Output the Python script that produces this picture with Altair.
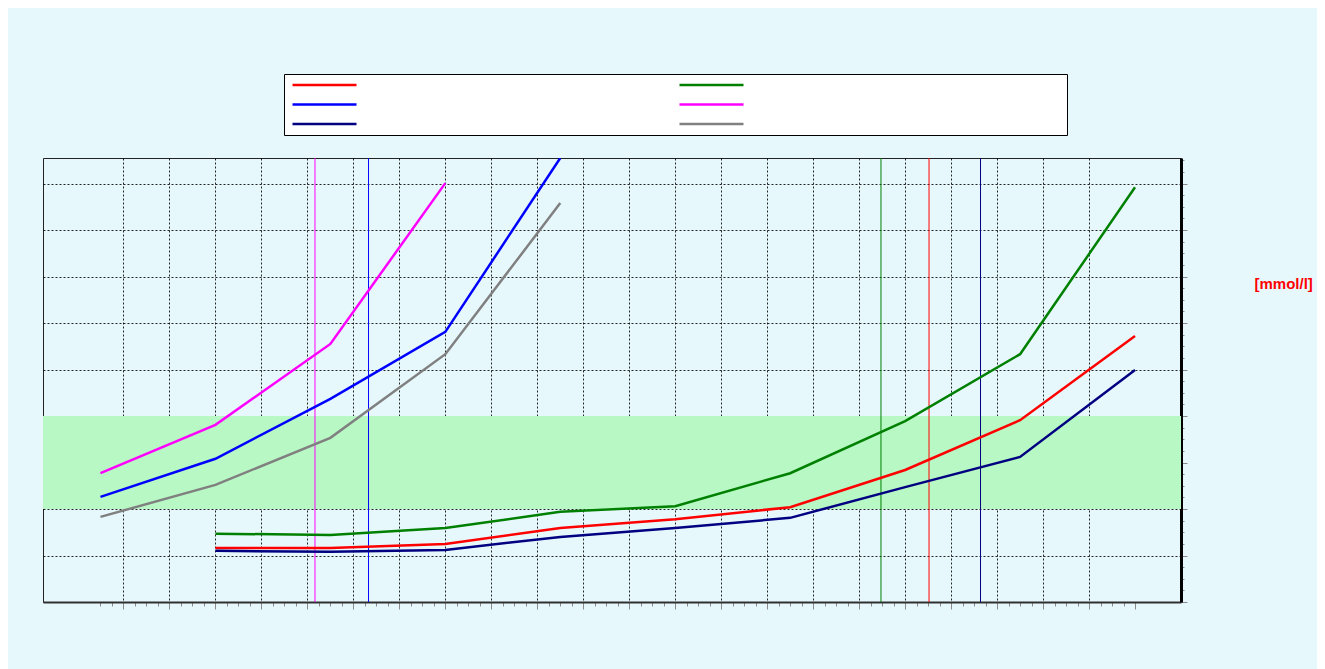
import altair as alt
import pandas as pd

# ---- data ----
# legend fills column by column: left column red, blue, navy; right column green, magenta, gray
series_names = ["Test 1", "Test 2", "Test 3", "Test 4", "Test 5", "Test 6"]
series_colors = ["#ff0000", "#0000ff", "#000080", "#008000", "#ff00ff", "#808080"]

x_steps = [0, 5, 10, 15, 20, 25, 30, 35, 40, 45]
red_vals = [None, 1.16, 1.16, 1.25, 1.59, 1.78, 2.04, 2.84, 3.91, 5.72]
blue_vals = [2.26, 3.08, 4.37, 5.81, 9.55, None, None, None, None, None]
navy_vals = [None, 1.10, 1.08, 1.12, 1.40, 1.59, 1.81, 2.47, 3.12, 4.99]
green_vals = [None, 1.47, 1.44, 1.59, 1.94, 2.06, 2.77, 3.89, 5.33, 8.92]
magenta_vals = [2.77, 3.81, 5.55, 9.01, None, None, None, None, None, None]
gray_vals = [1.83, 2.52, 3.53, 5.33, 8.58, None, None, None, None, None]

threshold_series = ["Test 5", "Test 2", "Test 4", "Test 1", "Test 3"]
threshold_x = [9.33, 11.66, 33.95, 36.04, 38.28]

band_low = [2.0]
band_high = [4.0]

x_domain = [-2.5, 47]
y_domain = [0, 9.55]
x_tick_values = [i * 0.5 for i in range(0, 91)]
y_tick_values = [i * 0.25 for i in range(0, 39)]

# ---- build tables ----
rows = []
for name, vals in zip(series_names, [red_vals, blue_vals, navy_vals, green_vals, magenta_vals, gray_vals]):
    for xv, yv in zip(x_steps, vals):
        if yv is not None:
            rows.append({"serie": name, "x": xv, "y": yv})
lines_df = pd.DataFrame(rows)
thr_df = pd.DataFrame({"serie": threshold_series, "x": threshold_x})
band_df = pd.DataFrame({"lo": band_low, "hi": band_high})

xscale = alt.Scale(domain=x_domain, nice=False, zero=False)
yscale = alt.Scale(domain=y_domain, nice=False, zero=False)
cscale = alt.Scale(domain=series_names, range=series_colors)

x_axis = alt.Axis(
    values=x_tick_values,
    labels=False,
    title=None,
    grid=True,
    gridColor="#000000",
    gridDash=[2, 2],
    gridWidth=1,
    gridOpacity={"condition": {"test": "datum.value % 2 === 1 && datum.value <= 43", "value": 0.85}, "value": 0},
    ticks=True,
    tickColor="#8a8a8a",
    tickWidth=1,
    tickSize={"condition": {"test": "datum.value % 2 === 1", "value": 7}, "value": 4},
    domain=True,
    domainColor="#303030",
    domainWidth=2,
)

y_axis = alt.Axis(
    orient="right",
    values=y_tick_values,
    labels=False,
    title="[mmol/l]",
    titleAngle=0,
    titleAlign="left",
    titleBaseline="middle",
    titleX=73,
    titleY=125,
    titleColor="#ff0000",
    titleFont="Liberation Sans",
    titleFontWeight="bold",
    titleFontSize=15,
    grid=True,
    gridColor="#000000",
    gridDash=[2, 2],
    gridWidth=1,
    gridOpacity={"condition": {"test": "datum.value % 1 === 0 && datum.value > 0", "value": 0.85}, "value": 0},
    ticks=True,
    tickColor="#8a8a8a",
    tickWidth=1,
    tickSize={"condition": {"test": "datum.value % 1 === 0", "value": 6}, "value": 3},
    domain=True,
    domainColor="#000000",
    domainWidth=3,
)

legend = alt.Legend(
    title=None,
    orient="none",
    legendX=241,
    legendY=-84,
    columns=2,
    symbolType="stroke",
    symbolSize=4096,
    symbolStrokeWidth=2.5,
    clipHeight=8,
    rowPadding=11.5,
    columnPadding=5,
    labelExpr="''",
    labelOffset=314.5,
    labelFontSize=8,
    padding=7,
    fillColor="#ffffff",
    strokeColor="#000000",
)

band = alt.Chart(band_df).mark_rect(color="#b8f8c4").encode(
    y=alt.Y("lo:Q", scale=yscale, axis=y_axis),
    y2="hi:Q",
)

rules = alt.Chart(thr_df).mark_rule(strokeWidth=1).encode(
    x=alt.X("x:Q", scale=xscale, axis=x_axis),
    color=alt.Color("serie:N", scale=cscale, legend=legend),
)

lines = alt.Chart(lines_df).mark_line(strokeWidth=2.5, clip=True).encode(
    x=alt.X("x:Q", scale=xscale, axis=x_axis),
    y=alt.Y("y:Q", scale=yscale, axis=y_axis),
    color=alt.Color("serie:N", scale=cscale, legend=legend),
)

chart = (
    alt.layer(band, rules, lines)
    .properties(
        width=1138,
        height=444,
        background="#E6F8FC",
        padding={"left": 35, "top": 150, "right": 136, "bottom": 67},
        autosize=alt.AutoSizeParams(type="none"),
    )
    .configure_view(stroke="#222222", strokeWidth=1)
    .configure_legend(strokeWidth=1)
)

chart.save("out.html", embed_options={"renderer": "svg", "actions": False})
